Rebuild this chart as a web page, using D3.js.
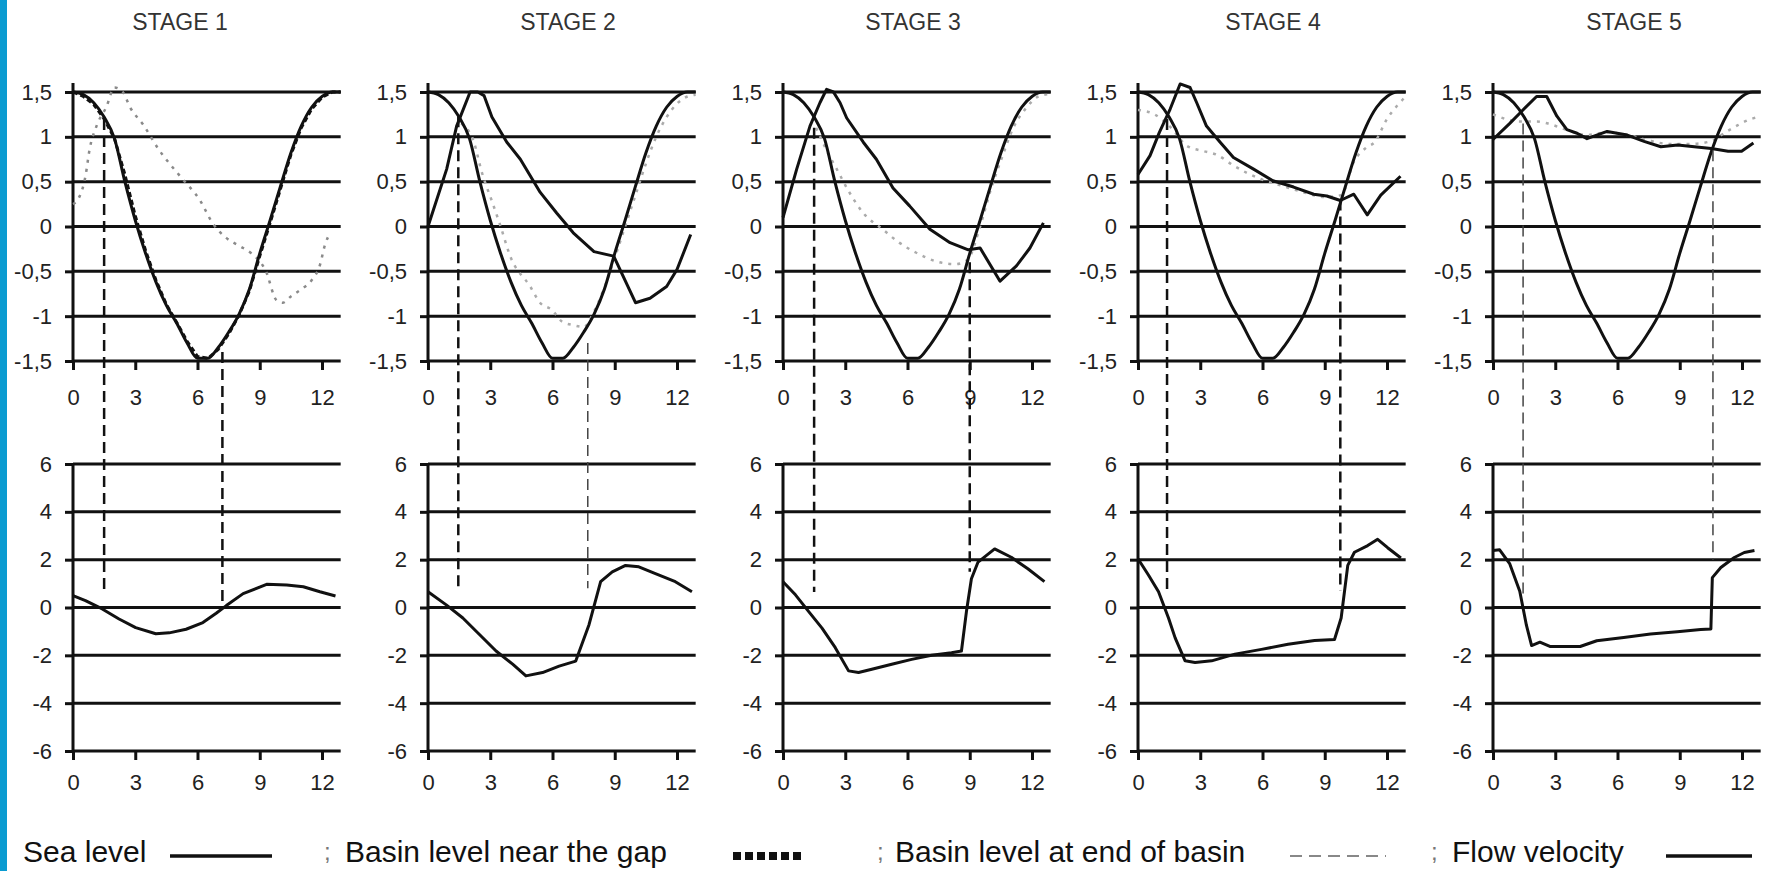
<!DOCTYPE html>
<html>
<head>
<meta charset="utf-8">
<script src="https://cdn.jsdelivr.net/npm/d3@7"></script>
<style>
  body { margin: 0; background: #fff; }
  svg { display: block; font-family: "Liberation Sans", Arial, sans-serif; }
</style>
</head>
<body>
<script>
const width = 1767;
const height = 871;

// categories and ticks
const stages = ["STAGE 1", "STAGE 2", "STAGE 3", "STAGE 4", "STAGE 5"];
const hourTicks = [0, 3, 6, 9, 12];
const levelTicks = [1.5, 1, 0.5, 0, -0.5, -1, -1.5];
const velocityTicks = [6, 4, 2, 0, -2, -4, -6];
const legendLabels = ["Sea level", "Basin level near the gap", "Basin level at end of basin", "Flow velocity"];

// sea level (same tide in every stage), [hour, m]
const seaLevel = [
  [0, 1.5], [0.5, 1.47], [1, 1.38], [1.5, 1.22], [2, 0.98], [2.5, 0.5], [3, 0.07], [3.5, -0.3],
  [4, -0.62], [4.5, -0.88], [5, -1.08], [5.5, -1.3], [6, -1.47], [6.5, -1.47], [7, -1.35],
  [7.5, -1.18], [8, -0.98], [8.5, -0.7], [9, -0.3], [9.5, 0.07], [10, 0.45], [10.5, 0.82],
  [11, 1.12], [11.5, 1.33], [12, 1.45], [12.5, 1.5], [12.9, 1.5]
];

// basin level near the gap, per stage
const nearGap = [
  [[0, 1.5], [0.5, 1.45], [1, 1.36], [1.5, 1.2], [2, 0.98], [2.5, 0.58], [3, 0.12], [3.5, -0.27],
   [4, -0.6], [4.5, -0.87], [5, -1.07], [5.5, -1.28], [6, -1.45], [6.5, -1.47], [7, -1.37],
   [7.5, -1.2], [8, -0.99], [8.5, -0.72], [9, -0.33], [9.5, 0.04], [10, 0.42], [10.5, 0.8],
   [11, 1.1], [11.5, 1.31], [12, 1.44], [12.5, 1.5], [12.9, 1.5]],
  [[0, 0], [0.9, 0.64], [1.38, 1.12], [2.03, 1.5], [2.4, 1.5], [2.7, 1.46], [3.08, 1.22],
   [3.8, 0.94], [4.45, 0.75], [5.41, 0.38], [6.2, 0.15], [7, -0.07], [8, -0.28], [8.95, -0.33],
   [10, -0.85], [10.7, -0.8], [11.5, -0.67], [12, -0.48], [12.66, -0.09]],
  [[0, 0.1], [0.66, 0.64], [1.3, 1.12], [1.78, 1.38], [2.1, 1.53], [2.43, 1.5], [2.75, 1.38],
   [3.07, 1.21], [3.87, 0.94], [4.5, 0.75], [5.3, 0.43], [6.1, 0.23], [7.08, -0.03], [8.05, -0.18],
   [8.93, -0.26], [9.5, -0.24], [10.46, -0.61], [11.25, -0.44], [11.9, -0.24], [12.55, 0.04]],
  [[0, 0.58], [0.58, 0.79], [1.03, 1.05], [1.55, 1.31], [2.03, 1.59], [2.51, 1.55], [2.83, 1.38],
   [3.3, 1.12], [3.96, 0.94], [4.6, 0.77], [5.57, 0.64], [6.5, 0.51], [7.5, 0.44], [8.47, 0.36],
   [9.1, 0.34], [9.75, 0.29], [10.4, 0.36], [11.05, 0.13], [11.7, 0.35], [12.65, 0.56]],
  [[0, 0.97], [0.81, 1.15], [1.36, 1.28], [2.1, 1.45], [2.59, 1.45], [3.08, 1.23], [3.56, 1.08],
   [4.05, 1.04], [4.53, 0.98], [5.5, 1.06], [6.47, 1.02], [7.28, 0.95], [8.09, 0.89], [8.9, 0.91],
   [9.7, 0.89], [10.52, 0.87], [11.33, 0.84], [11.98, 0.84], [12.55, 0.93]]
];

// basin level at end of basin, per stage
const endBasin = [
  [[0, 0.25], [0.26, 0.31], [0.6, 0.56], [0.8, 0.86], [1.15, 1.13], [1.6, 1.33], [2, 1.55],
   [2.4, 1.5], [2.75, 1.33], [3.4, 1.13], [4.1, 0.87], [5.2, 0.55], [6.1, 0.3], [6.75, 0.03],
   [7.4, -0.13], [8.05, -0.22], [8.6, -0.3], [9.3, -0.5], [9.8, -0.82], [10.1, -0.85],
   [10.5, -0.78], [11, -0.7], [11.5, -0.6], [11.9, -0.43], [12.15, -0.2], [12.4, -0.07]],
  [[1.6, 1.15], [2.2, 0.95], [2.6, 0.6], [3.1, 0.27], [3.5, 0], [3.96, -0.33], [4.93, -0.67],
   [5.4, -0.85], [5.97, -0.93], [6.46, -1.06], [7, -1.1], [7.5, -1.12], [8, -0.95], [8.5, -0.68],
   [9, -0.35], [9.5, 0], [10, 0.35], [10.5, 0.7], [11, 1], [11.5, 1.22], [12, 1.37], [12.5, 1.45],
   [12.9, 1.47]],
  [[1.6, 1.1], [2.1, 0.85], [2.59, 0.64], [3.2, 0.38], [3.87, 0.15], [4.8, -0.03], [5.6, -0.18],
   [6.4, -0.29], [7.4, -0.39], [8.3, -0.42], [8.9, -0.37], [9.5, 0], [10, 0.4], [10.6, 0.8],
   [11.1, 1.1], [11.75, 1.33], [12.3, 1.45], [12.9, 1.48]],
  [[0, 1.3], [0.8, 1.25], [1.6, 1.1], [2.35, 0.9], [3.16, 0.84], [3.8, 0.8], [4.6, 0.68],
   [5.9, 0.53], [7, 0.45], [8, 0.38], [9, 0.33], [9.8, 0.35], [10.4, 0.72], [11, 0.88],
   [11.4, 0.94], [12, 1.2], [12.5, 1.35], [12.9, 1.45]],
  [[0, 1.25], [1.3, 1.17], [2.1, 1.17], [2.9, 1.13], [3.5, 1.08], [4.5, 1.02], [5.5, 1.05],
   [6.5, 1.02], [7.5, 0.96], [8.5, 0.92], [9.5, 0.92], [10.5, 0.95], [11.2, 1.05], [11.8, 1.13],
   [12.45, 1.2], [12.8, 1.22]]
];

// flow velocity in the gap, per stage
const velocity = [
  [[0, 0.5], [0.6, 0.29], [1.41, -0.06], [2.22, -0.48], [3.02, -0.84], [3.99, -1.1], [4.64, -1.06],
   [5.45, -0.91], [6.26, -0.63], [6.9, -0.24], [7.39, 0.08], [8.2, 0.58], [9.33, 0.97],
   [10.3, 0.94], [11.1, 0.87], [11.9, 0.66], [12.65, 0.48]],
  [[0, 0.66], [0.88, 0.11], [1.68, -0.44], [2.48, -1.13], [3.28, -1.82], [4.08, -2.37], [4.72, -2.86],
   [5.52, -2.72], [6.32, -2.45], [7.12, -2.24], [7.76, -0.72], [8.32, 1.08], [8.88, 1.49],
   [9.52, 1.76], [10.16, 1.7], [10.96, 1.42], [11.92, 1.08], [12.72, 0.66]],
  [[0, 1.08], [0.6, 0.53], [1.24, -0.17], [1.88, -0.86], [2.52, -1.68], [3.16, -2.65], [3.64, -2.72],
   [4.28, -2.58], [5.24, -2.37], [6.2, -2.17], [7.16, -2], [8.12, -1.89], [8.6, -1.82],
   [8.84, -0.17], [9.08, 1.2], [9.4, 1.9], [10.2, 2.45], [11, 2.1], [11.8, 1.62], [12.6, 1.08]],
  [[0, 2.04], [0.51, 1.35], [0.99, 0.66], [1.47, -0.44], [1.79, -1.27], [2.27, -2.23], [2.75, -2.3],
   [3.55, -2.23], [4.67, -1.95], [5.95, -1.75], [7.23, -1.54], [8.51, -1.38], [9.47, -1.34],
   [9.79, -0.44], [10.11, 1.76], [10.43, 2.31], [11.07, 2.59], [11.55, 2.85], [12.03, 2.5],
   [12.67, 2.07]],
  [[0, 2.38], [0.32, 2.41], [0.81, 1.82], [1.29, 0.68], [1.61, -0.74], [1.86, -1.59], [2.26, -1.45],
   [2.74, -1.63], [4.2, -1.63], [5, -1.39], [6.3, -1.25], [7.59, -1.11], [8.88, -1.01],
   [10.01, -0.92], [10.5, -0.9], [10.57, 1.25], [10.98, 1.67], [11.63, 2.09], [12.11, 2.3],
   [12.6, 2.38]]
];

// slack-water markers: [hour, level in upper panel, velocity in lower panel]
const slackMarks = [
  [[1.5, 1.2, 0.6], [7.2, -1.4, 0]],
  [[1.46, 1.23, 0.7], [7.7, -1.3, 0.8]],
  [[1.5, 1.1, 0.65], [9.0, -0.4, 1.5]],
  [[1.4, 1.2, 0.7], [9.75, 0.3, 0.7]],
  [[1.45, 1.15, 0.5], [10.6, 0.85, 2.0]]
];

// layout
const panelLeft = 73;
const panelStep = 355;
const titleOffset = [107, 140, 130, 135, 141];
const slackThin = [[false, false], [false, true], [false, false], [false, false], [true, true]];
const font = "'Liberation Sans', Arial, sans-serif";

const svg = d3
  .select("body")
  .append("svg")
  .attr("width", width)
  .attr("height", height);

svg.append("rect").attr("width", width).attr("height", height).attr("fill", "#fff");
svg.append("rect").attr("x", 0).attr("y", 0).attr("width", 7).attr("height", height).attr("fill", "#0a9bd1");

const xScale = d3.scaleLinear().domain([0, 12]).range([0, 249]);
const yLevel = d3.scaleLinear().domain([-1.5, 1.5]).range([361, 92]);
const yVel = d3.scaleLinear().domain([-6, 6]).range([751, 464]);
const gridEnd = xScale(12.9);

const comma = d => String(d).replace(".", ",");

function drawPanel(g, yScale, ticks, labelPad, axisOver) {
  // horizontal grid lines
  g.append("g")
    .selectAll("line")
    .data(ticks)
    .enter()
    .append("line")
    .attr("x1", 0)
    .attr("x2", gridEnd)
    .attr("y1", d => yScale(d))
    .attr("y2", d => yScale(d))
    .attr("stroke", "#111")
    .attr("stroke-width", 3);

  const yAxis = g.append("g")
    .call(d3.axisLeft(yScale).tickValues(ticks).tickSize(8).tickPadding(13).tickFormat(comma));
  yAxis.select(".domain").remove();
  yAxis.selectAll("line").attr("stroke-width", 3).attr("stroke", "#111");
  yAxis.attr("font-size", 22).attr("font-family", font).attr("color", "#222");

  const [lo, hi] = yScale.domain();
  g.append("line")
    .attr("x1", 0)
    .attr("x2", 0)
    .attr("y1", yScale(hi) - axisOver)
    .attr("y2", yScale(lo))
    .attr("stroke", "#111")
    .attr("stroke-width", 3);

  const xAxis = g.append("g")
    .attr("transform", `translate(0,${yScale(lo)})`)
    .call(d3.axisBottom(xScale).tickValues(hourTicks).tickSize(9).tickPadding(labelPad));
  xAxis.select(".domain").remove();
  xAxis.selectAll("line").attr("stroke-width", 3).attr("stroke", "#111");
  xAxis.attr("font-size", 22).attr("font-family", font).attr("color", "#222");
}

const levelLine = d3.line().x(d => xScale(d[0])).y(d => yLevel(d[1])).curve(d3.curveMonotoneX);
const gapLine = d3.line().x(d => xScale(d[0])).y(d => yLevel(d[1]));
const velLine = d3.line().x(d => xScale(d[0])).y(d => yVel(d[1]));

stages.forEach((stage, i) => {
  const g = svg.append("g").attr("transform", `translate(${panelLeft + i * panelStep},0)`);

  g.append("text")
    .attr("x", titleOffset[i])
    .attr("y", 30)
    .attr("text-anchor", "middle")
    .attr("font-size", 23)
    .attr("font-family", font)
    .attr("fill", "#333")
    .text(stage);

  drawPanel(g, yLevel, levelTicks, 19, 9);
  drawPanel(g, yVel, velocityTicks, 14, 0);

  // 盆地末端水位.
  g.append("path")
    .attr("d", levelLine(endBasin[i]))
    .attr("fill", "none")
    .attr("stroke", i === 0 ? "#8a8a8a" : "#ababab")
    .attr("stroke-width", 2.5)
    .attr("stroke-dasharray", "3,6");

  g.append("path")
    .attr("d", levelLine(seaLevel))
    .attr("fill", "none")
    .attr("stroke", "#111")
    .attr("stroke-width", 3);

  g.append("path")
    .attr("d", gapLine(nearGap[i]))
    .attr("fill", "none")
    .attr("stroke", "#111")
    .attr("stroke-width", 3)
    .attr("stroke-linejoin", "round")
    .attr("stroke-dasharray", i === 0 ? "5,3" : null);

  g.append("path")
    .attr("d", velLine(velocity[i]))
    .attr("fill", "none")
    .attr("stroke", "#111")
    .attr("stroke-width", 3)
    .attr("stroke-linejoin", "round");

  // 憩流虛線.
  g.append("g")
    .selectAll("line")
    .data(slackMarks[i])
    .enter()
    .append("line")
    .attr("x1", d => xScale(d[0]))
    .attr("x2", d => xScale(d[0]))
    .attr("y1", d => yLevel(d[1]))
    .attr("y2", d => yVel(d[2]))
    .attr("stroke", (d, j) => (slackThin[i][j] ? "#444" : "#111"))
    .attr("stroke-width", (d, j) => (slackThin[i][j] ? 1.5 : 2.5))
    .attr("stroke-dasharray", "11,6");
});

// legend
const legend = svg.append("g").attr("font-family", font).attr("font-size", 30).attr("fill", "#111");
const legendText = [23, 345, 895, 1452];
const legendSemi = [null, 324, 877, 1431];

legendLabels.forEach((label, i) => {
  legend.append("text").attr("x", legendText[i]).attr("y", 862).text(label);
  if (legendSemi[i] !== null) {
    legend.append("text")
      .attr("x", legendSemi[i])
      .attr("y", 860)
      .attr("font-size", 24)
      .attr("fill", "#777")
      .text(";");
  }
});

legend.append("line").attr("x1", 170).attr("x2", 272).attr("y1", 856).attr("y2", 856)
  .attr("stroke", "#111").attr("stroke-width", 3.5);
legend.append("line").attr("x1", 733).attr("x2", 802).attr("y1", 856).attr("y2", 856)
  .attr("stroke", "#111").attr("stroke-width", 8).attr("stroke-dasharray", "8,4");
legend.append("line").attr("x1", 1290).attr("x2", 1386).attr("y1", 856).attr("y2", 856)
  .attr("stroke", "#888").attr("stroke-width", 2).attr("stroke-dasharray", "12,7");
legend.append("line").attr("x1", 1666).attr("x2", 1752).attr("y1", 856).attr("y2", 856)
  .attr("stroke", "#111").attr("stroke-width", 3.5);
</script>
</body>
</html>
